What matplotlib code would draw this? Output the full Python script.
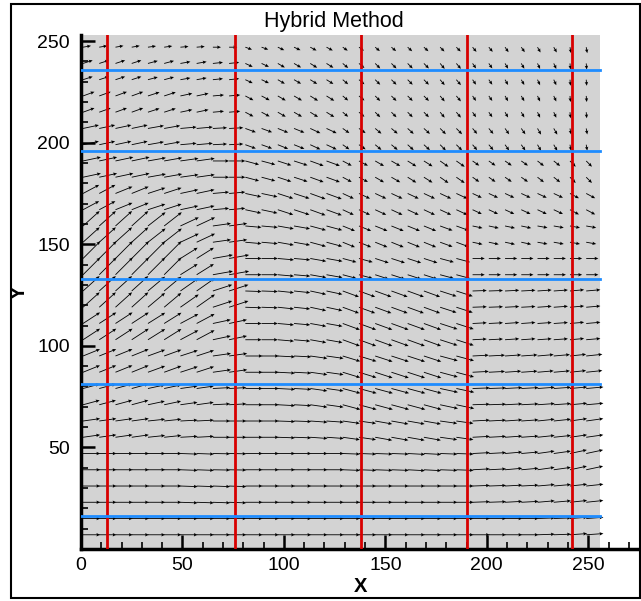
import numpy as np
import matplotlib.pyplot as plt
from matplotlib.patches import Rectangle
from matplotlib.ticker import MultipleLocator

plt.rcParams['font.family'] = ['Liberation Sans', 'DejaVu Sans']

# vector grid (tail positions)
x_pos = np.arange(1, 256, 8)          # 32 columns
y_pos = np.arange(7, 256, 8)[:31]     # 31 rows

# block readings: each entry covers 2 x 2 arrows, rows bottom -> top
angle_deg = [
    [0, 0, 0, 0, 0, 0, 0, 0, 0, 0, 0, 0, 0, 0, 2, 4],
    [0, 0, 0, -2, -2, 0, 0, 0, 0, 0, 0, 0, 2, 3, 5, 6],
    [0, 0, 0, -2, -1, 0, 0, 0, -2, -2, -3, -2, 3, 5, 8, 12],
    [8, 8, 6, 3, 0, 0, -2, -4, -8, -10, -10, -8, 3, 4, 6, 8],
    [15, 15, 12, 8, 3, 0, -3, -8, -15, -15, -15, -12, 2, 3, 4, 5],
    [22, 22, 20, 18, 8, 0, -3, -8, -17, -18, -18, -15, 3, 4, 5, 6],
    [33, 33, 32, 28, 12, 0, -5, -10, -20, -20, -20, -18, 3, 4, 4, 5],
    [42, 42, 40, 35, 18, -2, -6, -12, -20, -20, -20, -18, 2, 3, 4, 5],
    [45, 45, 45, 32, 10, 0, -5, -10, -15, -18, -18, -15, 0, 0, 0, 0],
    [42, 42, 38, 25, 8, -5, -10, -15, -22, -22, -22, -20, -12, -12, -10, -10],
    [28, 22, 18, 12, 5, -12, -18, -20, -25, -25, -25, -25, -25, -25, -25, -28],
    [12, 12, 10, 8, 0, -15, -18, -20, -28, -30, -32, -35, -35, -35, -38, -45],
    [12, 12, 10, 5, 3, -20, -22, -25, -35, -40, -42, -45, -50, -55, -60, -80],
    [20, 20, 18, 12, 5, -28, -30, -32, -40, -45, -45, -50, -55, -60, -65, -85],
    [18, 18, 15, 10, 6, -25, -30, -32, -40, -45, -45, -50, -55, -60, -65, -85],
    [10, 10, 8, 5, 0, -20, -25, -28, -35, -40, -42, -45, -50, -55, -60, -80],
]

arrow_len = [
    [8.5, 8.5, 8.5, 8.5, 8.5, 8.5, 8.5, 8.5, 8.5, 8.5, 8.5, 8.5, 8.5, 8.5, 8.5, 8.5],
    [8.5, 8.5, 8.5, 8.5, 8.5, 8.5, 8.5, 8.5, 8.5, 8.5, 8.5, 8.5, 8.5, 8.5, 8.5, 8.5],
    [8.5, 8.5, 8.5, 8.5, 8.5, 8.5, 8.5, 8.5, 8.5, 8.5, 8.5, 8.5, 8.5, 8.5, 8.5, 8.5],
    [8.5, 8.5, 8.5, 8.5, 8.5, 8.5, 8.5, 8.5, 8.5, 8.5, 8.5, 8.5, 8.5, 8.5, 8.5, 8.5],
    [8.5, 8.5, 8.5, 8.5, 8.5, 8.5, 8.5, 8.5, 9, 9, 9, 9, 8.5, 8.5, 8.5, 8.5],
    [9, 9, 9, 9, 9, 8.5, 8.5, 8.5, 9, 9, 9, 9, 8, 8, 8, 8],
    [10, 10, 10, 10, 9, 8, 8, 8, 9, 9, 9, 9, 7, 7, 7, 7],
    [11, 11, 11, 11, 10, 8, 8, 8, 8.5, 8.5, 8.5, 8.5, 7, 7, 7, 7],
    [12, 12, 12, 10, 10, 8, 8, 8, 7, 7, 7, 7, 6, 6, 6, 6],
    [11, 11, 11, 10, 9, 8, 8, 8, 6.5, 6.5, 6.5, 6.5, 5, 5, 5, 5],
    [9, 9, 9, 9, 8, 8, 8, 8, 6, 6, 6, 6, 5, 5, 5, 5],
    [9, 9, 9, 9, 8, 7, 7, 7, 5, 5, 5, 5, 4, 4, 4, 4],
    [8, 8, 8, 8, 7, 5.5, 5.5, 5.5, 4, 4, 4, 4, 3.5, 3.5, 3.5, 3],
    [6, 6, 6, 6, 5.5, 4.5, 4.5, 4.5, 3.5, 3.5, 3.5, 3.5, 3, 3, 3, 3],
    [5, 5, 5, 5, 5, 4, 4, 4, 3.5, 3.5, 3.5, 3.5, 3, 3, 3, 3],
    [4, 4, 4, 4, 4, 3.5, 3.5, 3.5, 3, 3, 3, 3, 3, 3, 3, 3],
]

red_x = [12.7, 76, 138, 190, 242]
blue_y = [16, 81, 133, 196, 236]

fig = plt.figure(figsize=(6.41, 6.01), dpi=100)
ax = fig.add_axes([81 / 641, 1 - 549 / 601, 560 / 641, 514 / 601])
ax.set_xlim(0, 276)
ax.set_ylim(0, 253)
ax.set_facecolor('none')

ax.add_patch(Rectangle((0, 0), 256, 256, facecolor='#d3d3d3', edgecolor='none', zorder=0))

# expand block values to every arrow (piecewise constant)
ang = np.repeat(np.repeat(np.array(angle_deg, float), 2, axis=0), 2, axis=1)[:len(y_pos), :len(x_pos)]
mag = np.repeat(np.repeat(np.array(arrow_len, float), 2, axis=0), 2, axis=1)[:len(y_pos), :len(x_pos)]
X, Y = np.meshgrid(x_pos, y_pos)
U = mag * np.cos(np.radians(ang))
V = mag * np.sin(np.radians(ang))
ax.quiver(X, Y, U, V, angles='xy', scale_units='xy', scale=1, units='xy',
          width=0.42, headwidth=4, headlength=4.5, headaxislength=4,
          pivot='tail', color='black', zorder=2)

for xv in red_x:
    ax.plot([xv, xv], [0, 256], color='#d80000', lw=2, zorder=3)
for yv in blue_y:
    ax.plot([0, 256], [yv, yv], color='#1e8cff', lw=2, zorder=3)

for s in ['top', 'right']:
    ax.spines[s].set_visible(False)
for s in ['left', 'bottom']:
    ax.spines[s].set_linewidth(2.5)

ax.set_xticks([0, 50, 100, 150, 200, 250])
ax.set_yticks([50, 100, 150, 200, 250])
ax.xaxis.set_minor_locator(MultipleLocator(10))
ax.yaxis.set_minor_locator(MultipleLocator(10))
ax.tick_params(which='major', direction='in', length=10, width=1.8, labelsize=14, pad=6)
ax.tick_params(which='minor', direction='in', length=5, width=1.2)
ax.tick_params(axis='y', pad=8)

fig.text(334 / 641, 1 - 21 / 601, 'Hybrid Method', ha='center', va='center', fontsize=15.5)
fig.text(361 / 641, 1 - 586 / 601, 'X', ha='center', va='center', fontsize=14.5, fontweight='bold')
fig.text(19 / 641, 1 - 292 / 601, 'Y', ha='center', va='center', fontsize=14.5,
         fontweight='bold', rotation=90)

fig.add_artist(Rectangle((11 / 641, 3 / 601), 628.5 / 641, 594.5 / 601, transform=fig.transFigure,
                         fill=False, edgecolor='black', lw=1.5))

fig.savefig('out.png', dpi=100)
